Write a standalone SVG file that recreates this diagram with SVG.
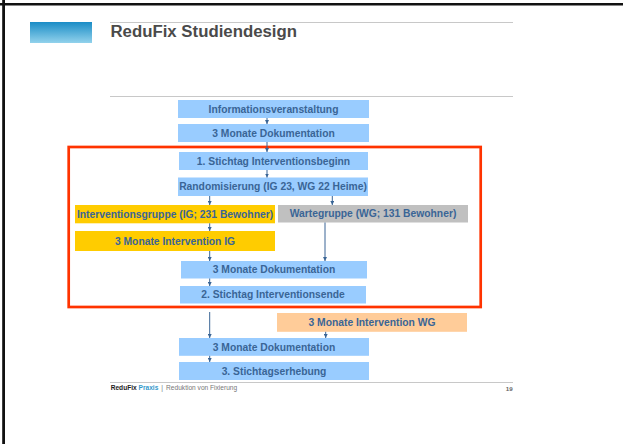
<svg xmlns="http://www.w3.org/2000/svg" width="623" height="444" viewBox="0 0 623 444">
  <defs>
    <linearGradient id="hdrGrad" x1="0" y1="0" x2="0" y2="1">
      <stop offset="0" stop-color="#1a8cc6"/>
      <stop offset="1" stop-color="#92d2ec"/>
    </linearGradient>
    <marker id="arr" viewBox="0 0 6 6" refX="6" refY="3" markerWidth="4" markerHeight="4" orient="auto" markerUnits="userSpaceOnUse">
      <path d="M0,0 L6,3 L0,6 z" fill="#3a6596"/>
    </marker>
    <style>
      .box text { font-family: "Liberation Sans", Arial, sans-serif; font-weight: bold; font-size: 10.3px; fill: #3a6596; text-anchor: middle; }
      .blue { fill: #99ccff; }
      .yellow { fill: #ffcc00; }
      .grey { fill: #c0c0c0; }
      .peach { fill: #ffcc99; }
      .rule { stroke: #c8c8c8; stroke-width: 1; }
      #connectors line { stroke: #3a6596; stroke-width: 1; marker-end: url(#arr); }
    </style>
  </defs>

  <rect width="623" height="444" fill="#ffffff"/>

  <!-- page frame edges -->
  <line x1="0" y1="4.3" x2="623" y2="4.3" stroke="#111" stroke-width="2.6"/>
  <line x1="3.6" y1="0" x2="3.6" y2="444" stroke="#111" stroke-width="2.8"/>

  <!-- header -->
  <rect x="30" y="22" width="62" height="21" fill="url(#hdrGrad)"/>
  <line class="rule" x1="110" y1="22.5" x2="513" y2="22.5"/>
  <text x="110.5" y="37.3" font-family="Liberation Sans, Arial, sans-serif" font-weight="bold" font-size="16.8" fill="#4a4a4a">ReduFix Studiendesign</text>
  <line class="rule" x1="110" y1="96.5" x2="513" y2="96.5"/>

  <!-- highlighted phase -->
  <rect x="68.7" y="147" width="412" height="160" fill="none" stroke="#ff3300" stroke-width="2.7"/>

  <!-- nodes -->
  <g id="n-info" class="box"><rect class="blue" x="178" y="100" width="191" height="18"/><text x="273.5" y="112.6">Informationsveranstaltung</text></g>
  <g id="n-doku1" class="box"><rect class="blue" x="178" y="124" width="191" height="18"/><text x="273.5" y="136.6">3 Monate Dokumentation</text></g>
  <g id="n-stichtag1" class="box"><rect class="blue" x="179" y="152" width="189" height="18"/><text x="273.5" y="164.6">1. Stichtag Interventionsbeginn</text></g>
  <g id="n-random" class="box"><rect class="blue" x="178" y="177.5" width="190" height="18.5"/><text x="273" y="190.4">Randomisierung (IG 23, WG 22 Heime)</text></g>
  <g id="n-ig" class="box"><rect class="yellow" x="75" y="205" width="200" height="18.3"/><text x="175" y="217.8">Interventionsgruppe (IG; 231 Bewohner)</text></g>
  <g id="n-wg" class="box"><rect class="grey" x="278" y="205" width="190" height="17.5"/><text x="373" y="217.4">Wartegruppe (WG; 131 Bewohner)</text></g>
  <g id="n-int-ig" class="box"><rect class="yellow" x="75" y="231" width="200" height="20"/><text x="175" y="244.6">3 Monate Intervention IG</text></g>
  <g id="n-doku2" class="box"><rect class="blue" x="181" y="261" width="186" height="17.5"/><text x="274" y="273.4">3 Monate Dokumentation</text></g>
  <g id="n-stichtag2" class="box"><rect class="blue" x="180" y="286" width="186" height="17.5"/><text x="273" y="298.4">2. Stichtag Interventionsende</text></g>
  <g id="n-int-wg" class="box"><rect class="peach" x="277" y="313" width="190" height="18.8"/><text x="372" y="326.1">3 Monate Intervention WG</text></g>
  <g id="n-doku3" class="box"><rect class="blue" x="179" y="338" width="190" height="17.8"/><text x="274" y="350.6">3 Monate Dokumentation</text></g>
  <g id="n-stichtag3" class="box"><rect class="blue" x="179" y="362" width="190" height="18"/><text x="274" y="374.6">3. Stichtagserhebung</text></g>

  <!-- connectors -->
  <g id="connectors">
    <line x1="267" y1="118" x2="267" y2="124"/>
    <line x1="267" y1="142" x2="267" y2="152"/>
    <line x1="267" y1="170" x2="267" y2="177.5"/>
    <line x1="209.7" y1="196" x2="209.7" y2="205"/>
    <line x1="332.3" y1="196" x2="332.3" y2="205"/>
    <line x1="209.7" y1="223.3" x2="209.7" y2="231"/>
    <line x1="325" y1="222.5" x2="325" y2="261"/>
    <line x1="209.7" y1="251" x2="209.7" y2="261"/>
    <line x1="209.7" y1="278.5" x2="209.7" y2="286"/>
    <line x1="209.7" y1="312" x2="209.7" y2="338"/>
    <line x1="325.7" y1="331.8" x2="325.7" y2="338"/>
    <line x1="209.7" y1="355.8" x2="209.7" y2="362"/>
  </g>

  <!-- footer -->
  <line class="rule" x1="110" y1="382.5" x2="513" y2="382.5"/>
  <text x="110.7" y="390.3" font-family="Liberation Sans, Arial, sans-serif" font-size="6.6" fill="#777"><tspan font-weight="bold" fill="#222">ReduFix</tspan> <tspan font-weight="bold" fill="#3399cc">Praxis</tspan><tspan dx="3">|</tspan><tspan dx="3">Reduktion von Fixierung</tspan></text>
  <text x="512.7" y="390.6" font-family="Liberation Sans, Arial, sans-serif" font-size="6.2" font-weight="bold" fill="#666" text-anchor="end">19</text>
</svg>
